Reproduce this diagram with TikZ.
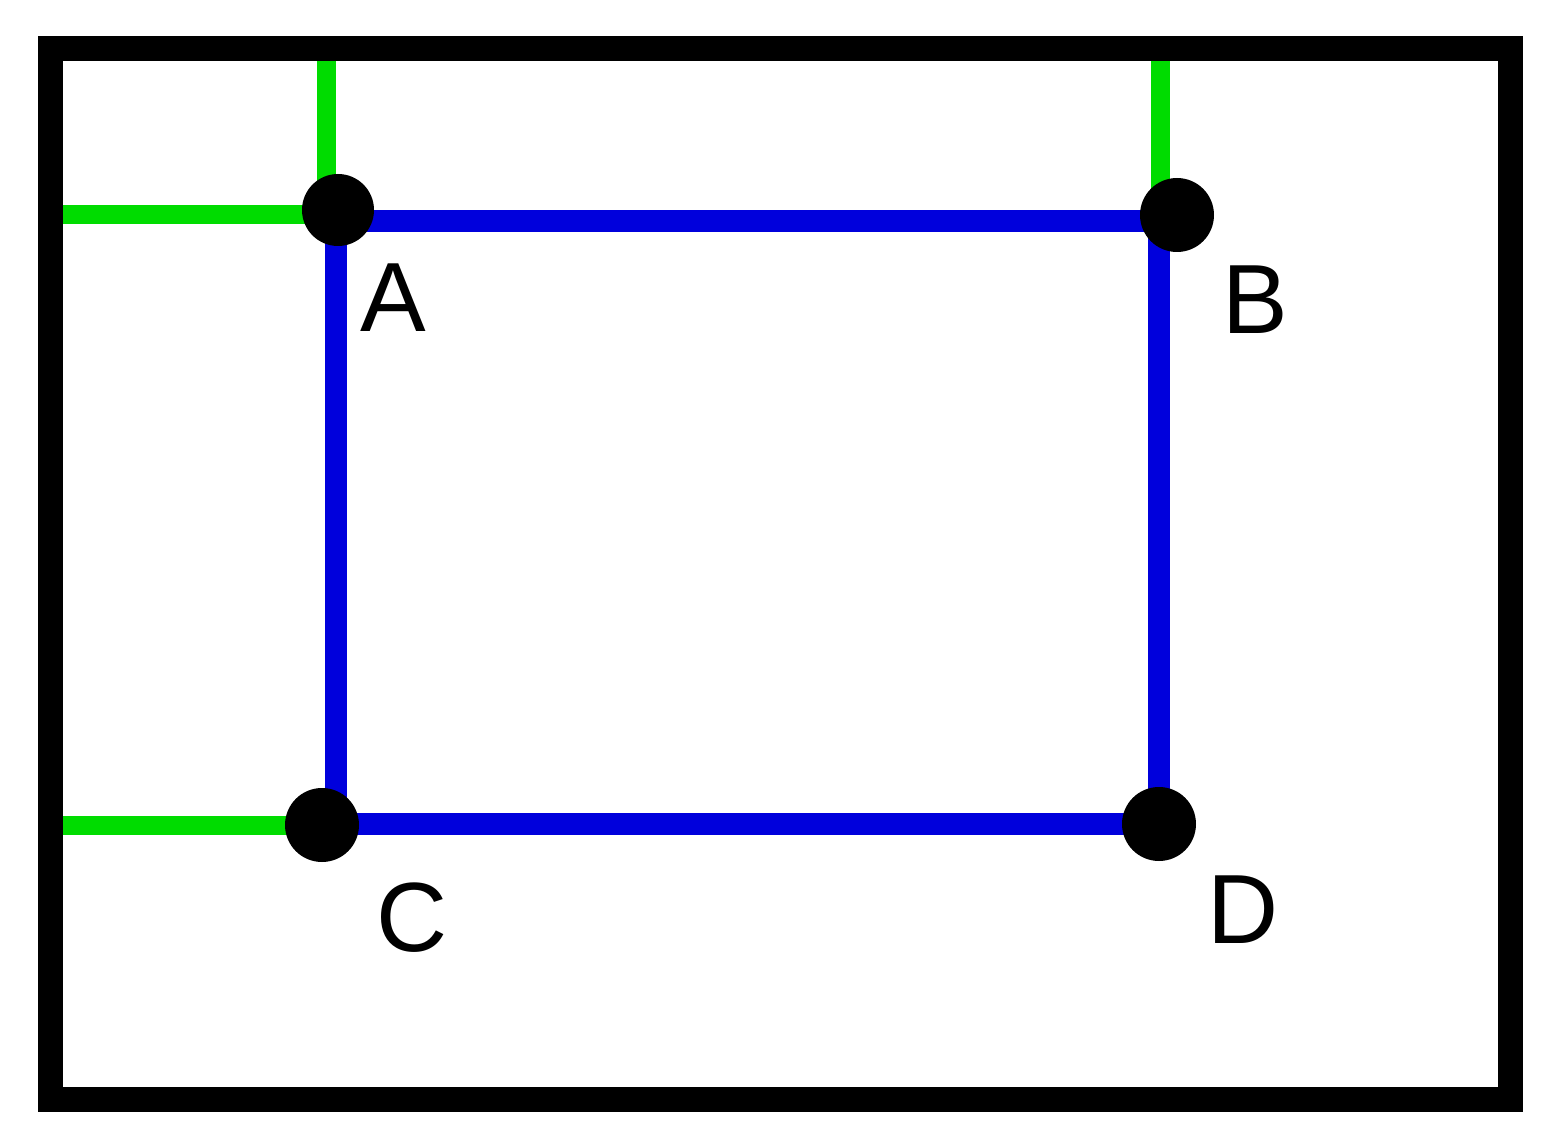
\documentclass[tikz,border=0pt]{standalone}
\usepackage{fontspec}
\setmainfont{Liberation Sans}
\usepackage{tikz}

\definecolor{edgeblue}{RGB}{0,0,220}
\definecolor{legreen}{RGB}{0,220,0}

\begin{document}
\begin{tikzpicture}
        \useasboundingbox (0,0) rectangle (15.58,11.45);

        \coordinate (A) at (3.36,9.24);
        \coordinate (B) at (11.77,9.30);
        \coordinate (C) at (3.22,3.20);
        \coordinate (D) at (11.59,3.21);

        % green legs out to the frame
        \coordinate (Atop) at (3.26,10.84);
        \coordinate (Aleft) at (0.63,9.30);
        \coordinate (Btop) at (11.60,10.84);
        \coordinate (Cleft) at (0.63,3.20);
        \draw[legreen, line width=0.19cm] (Atop) |- (A);
        \draw[legreen, line width=0.19cm] (Aleft) -- (Aleft -| A);
        \draw[legreen, line width=0.19cm] (B -| Btop) -- (Btop);
        \draw[legreen, line width=0.19cm] (Cleft) -- (C);

        % blue rectangle
        \draw[edgeblue, line width=0.22cm] (A) -- (A -| D) -- (D) -- (A |- D) -- cycle;

        \fill (3.38,9.35) circle (0.36);
        \foreach \p in {B,C,D} {
                \fill (\p) circle (0.37);
            }

        \node[font=\fontsize{28}{30}\selectfont] (la) at (3.93,8.47) {A};
        \node[font=\fontsize{28}{30}\selectfont] (lb) at (12.55,8.45) {B};
        \node[font=\fontsize{28}{30}\selectfont] (lc) at (4.12,2.27) {C};
        \node[font=\fontsize{28}{30}\selectfont] (ld) at (12.43,2.35) {D};

        \draw[line width=0.25cm] (0.505,0.455) rectangle (15.10,10.965);
    \end{tikzpicture}
\end{document}
